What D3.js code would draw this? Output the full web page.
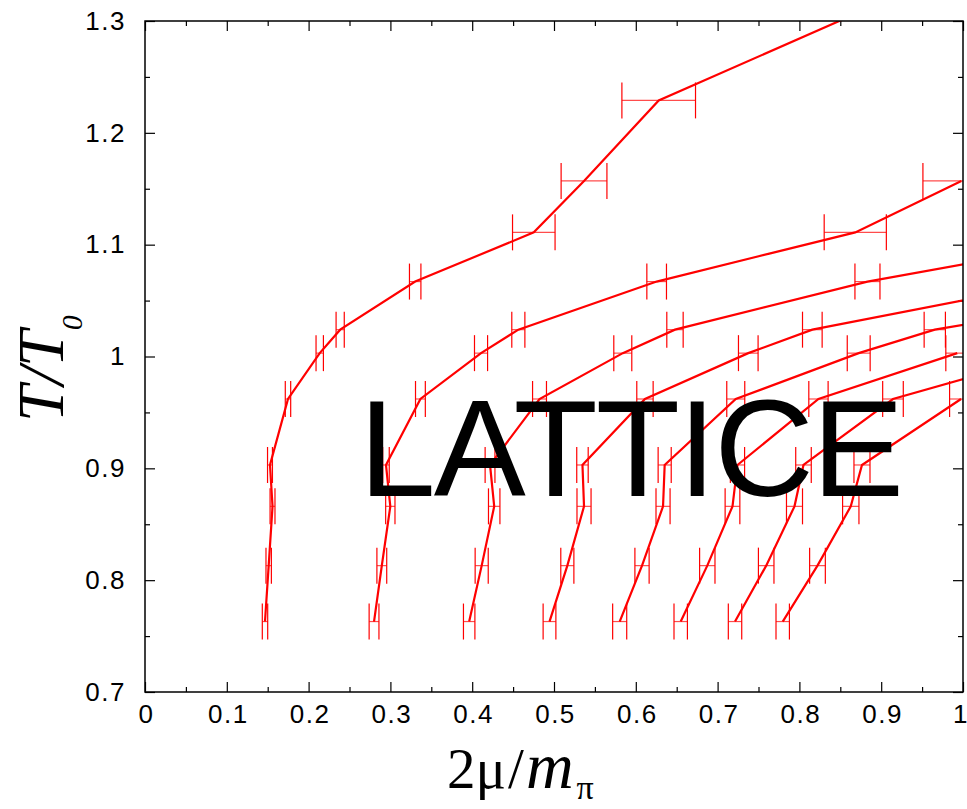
<!DOCTYPE html>
<html>
<head>
<meta charset="utf-8">
<script src="https://cdn.jsdelivr.net/npm/d3@7"></script>
<style>
  body { margin: 0; background: #fff; }
  .tick text { font-family: "Liberation Sans", Arial, sans-serif; font-size: 26px; letter-spacing: 1.5px; fill: #000; }
</style>
</head>
<body>
<div id="graph"></div>
<script>

// temperature levels (T/T0) of the lattice points
const tLevels = [0.763, 0.813, 0.866, 0.903, 0.962, 1.003, 1.024, 1.067, 1.111, 1.157, 1.229, 1.33];

// 2mu/m_pi for each curve, with its horizontal error
const mu1 = [0.1467, 0.1512, 0.1559, 0.1528, 0.1748, 0.2136, 0.2386, 0.3303, 0.4753, 0.5367, 0.628, 0.942];
const err1 = [0.0033, 0.0033, 0.003, 0.003, 0.0033, 0.0045, 0.005, 0.007, 0.026, 0.028, 0.045, 0.05];
const mu2 = [0.280, 0.2895, 0.2999, 0.2946, 0.3367, 0.4108, 0.4564, 0.6255, 0.8683, 0.998];
const err2 = [0.006, 0.006, 0.0057, 0.004, 0.006, 0.008, 0.008, 0.012, 0.038, 0.047];
const mu3 = [0.3963, 0.4116, 0.4269, 0.4218, 0.4823, 0.5841, 0.6479, 0.8832, 1.218];
const err3 = [0.007, 0.008, 0.007, 0.006, 0.0085, 0.011, 0.010, 0.0153, 0.02];
const mu4 = [0.4945, 0.5163, 0.5367, 0.5348, 0.6112, 0.7375, 0.8158, 1.119];
const err4 = [0.0078, 0.008, 0.0086, 0.007, 0.010, 0.012, 0.012, 0.015];
const mu5 = [0.5803, 0.6076, 0.6333, 0.6353, 0.7222, 0.8725, 0.9655, 1.31];
const err5 = [0.0086, 0.0087, 0.0086, 0.008, 0.011, 0.014, 0.013, 0.016];
const mu6 = [0.6549, 0.6874, 0.7182, 0.7243, 0.8233, 0.993];
const err6 = [0.0082, 0.0094, 0.009, 0.0087, 0.0118, 0.014];
const mu7 = [0.7213, 0.7594, 0.794, 0.805, 0.9144, 1.111];
const err7 = [0.0082, 0.0095, 0.0098, 0.0095, 0.0126, 0.014];
const mu8 = [0.7796, 0.8221, 0.8628, 0.8765, 0.9976];
const err8 = [0.0082, 0.0096, 0.01, 0.0098, 0.014];

const xTicks = [0, 0.1, 0.2, 0.3, 0.4, 0.5, 0.6, 0.7, 0.8, 0.9, 1];
const yTicks = [0.7, 0.8, 0.9, 1, 1.1, 1.2, 1.3];

// build point lists
var curves = [[mu1, err1], [mu2, err2], [mu3, err3], [mu4, err4],
              [mu5, err5], [mu6, err6], [mu7, err7], [mu8, err8]].map(function(c) {
  return c[0].map(function(m, i) {
    return {mu: m, err: c[1][i], t: tLevels[i]};
  });
});

var margin = {top: 21, right: 4, bottom: 117, left: 145},
    width = 818,
    height = 671;

var svg = d3.select("#graph").append("svg")
    .attr("width", 967)
    .attr("height", 809)
  .append("g")
    .attr("transform", "translate(" + margin.left + "," + margin.top + ")");

var x = d3.scaleLinear().domain([0, 1]).range([0, width]);
var y = d3.scaleLinear().domain([0.7, 1.3]).range([height, 0]);

var fmt = d3.format("~g");
var xMinor = d3.range(0.05, 1, 0.1);
var yMinor = d3.range(0.75, 1.3, 0.1);

svg.append("clipPath")
    .attr("id", "plotclip")
  .append("rect")
    .attr("width", width)
    .attr("height", height);

// ticks, all pointing inwards
function addAxis(axis, tx, ty) {
  var g = svg.append("g")
      .attr("transform", "translate(" + tx + "," + ty + ")")
      .call(axis);
  g.select(".domain").remove();
  g.selectAll(".tick line").attr("stroke", "#000").attr("stroke-width", 1.2);
  return g;
}

var xAxisG = addAxis(d3.axisBottom(x).tickValues(xTicks).tickSize(-10).tickPadding(13).tickFormat(fmt), 0, height);
xAxisG.selectAll(".tick text").attr("dx", "1px");
// last label sits at the right edge of the picture
xAxisG.selectAll(".tick text")
  .filter(function(d) { return d === 1; })
  .attr("text-anchor", "end")
  .attr("dx", "4px")
  .style("letter-spacing", "0px");
addAxis(d3.axisBottom(x).tickValues(xMinor).tickSize(-5).tickFormat(""), 0, height);
addAxis(d3.axisTop(x).tickValues(xTicks).tickSize(-10).tickFormat(""), 0, 0);
addAxis(d3.axisTop(x).tickValues(xMinor).tickSize(-5).tickFormat(""), 0, 0);
addAxis(d3.axisLeft(y).tickValues(yTicks).tickSize(-10).tickPadding(19).tickFormat(fmt), 0, 0);
addAxis(d3.axisLeft(y).tickValues(yMinor).tickSize(-5).tickFormat(""), 0, 0);
addAxis(d3.axisRight(y).tickValues(yTicks).tickSize(-10).tickFormat(""), width, 0);
addAxis(d3.axisRight(y).tickValues(yMinor).tickSize(-5).tickFormat(""), width, 0);

var plot = svg.append("g").attr("clip-path", "url(#plotclip)");

var line = d3.line()
    .x(function(d) { return x(d.mu); })
    .y(function(d) { return y(d.t); });

var capH = 18;

curves.forEach(function(pts) {
  plot.append("path")
    .datum(pts)
    .attr("d", line)
    .attr("fill", "none")
    .attr("stroke", "#ff0000")
    .attr("stroke-width", 2.2)
    .attr("stroke-linejoin", "miter");

  var bars = plot.selectAll(null)
    .data(pts)
    .enter().append("g")
    .attr("stroke", "#ff0000")
    .attr("stroke-width", 1.2);

  bars.append("line")
    .attr("x1", function(d) { return x(d.mu - d.err); })
    .attr("x2", function(d) { return x(d.mu + d.err); })
    .attr("y1", function(d) { return y(d.t); })
    .attr("y2", function(d) { return y(d.t); })
    .attr("stroke-opacity", 0.7);

  bars.append("line")
    .attr("x1", function(d) { return x(d.mu - d.err); })
    .attr("x2", function(d) { return x(d.mu - d.err); })
    .attr("y1", function(d) { return y(d.t) - capH; })
    .attr("y2", function(d) { return y(d.t) + capH; });

  bars.append("line")
    .attr("x1", function(d) { return x(d.mu + d.err); })
    .attr("x2", function(d) { return x(d.mu + d.err); })
    .attr("y1", function(d) { return y(d.t) - capH; })
    .attr("y2", function(d) { return y(d.t) + capH; });
});

// frame
svg.append("rect")
  .attr("width", width)
  .attr("height", height)
  .attr("fill", "none")
  .attr("stroke", "#000")
  .attr("stroke-width", 1.5);

// big label
svg.append("text")
  .attr("x", 359 - margin.left)
  .attr("y", 495.5 - margin.top)
  .attr("textLength", 545)
  .attr("lengthAdjust", "spacing")
  .style("font-family", "'Liberation Sans', Arial, sans-serif")
  .style("font-size", "138px")
  .style("fill", "#000")
  .text("LATTICE");

// x axis title
var xt = svg.append("text")
  .attr("x", 447 - margin.left)
  .attr("y", 788 - margin.top)
  .style("font-family", "'Liberation Serif', 'Times New Roman', serif")
  .style("font-size", "57px")
  .style("fill", "#000");
xt.append("tspan").text("2\u03bc");
xt.append("tspan").attr("dx", 2).text("/");
xt.append("tspan").attr("dx", 2).style("font-style", "italic").style("font-size", "66px").text("m");
xt.append("tspan").attr("dx", 3).attr("dy", 11).style("font-size", "34px").text("\u03c0");

// y axis title
var yt = svg.append("text")
  .attr("transform", "translate(" + (63 - margin.left) + "," + (422 - margin.top) + ") rotate(-90)")
  .style("font-family", "'Liberation Serif', 'Times New Roman', serif")
  .style("font-size", "66px")
  .style("font-style", "italic")
  .style("fill", "#000");
yt.append("tspan").text("T/T");
yt.append("tspan").attr("dy", 19).style("font-size", "30px").text("0");

</script>
</body>
</html>
